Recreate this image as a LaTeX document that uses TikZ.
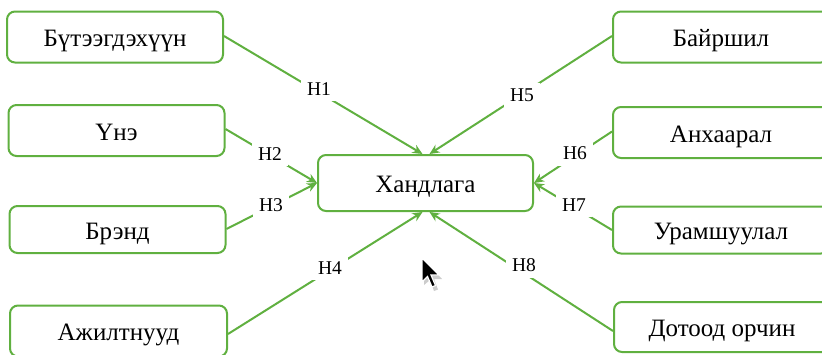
\documentclass[tikz,border=0pt]{standalone}
\usepackage{fontspec}
\setmainfont{Liberation Serif}
\usetikzlibrary{arrows.meta}
\definecolor{gr}{RGB}{96,176,64}
\tikzset{
  box/.style={draw=gr, line width=2pt, rounded corners=8pt, fill=white,
    minimum width=216pt, minimum height=51pt, inner sep=0pt,
    text height=21pt, text depth=2pt,
    font=\fontsize{25}{28}\selectfont},
  conn/.style={draw=gr, line width=2pt},
  arr/.style={conn, -{Stealth[length=10pt,width=9pt]}},
  lbl/.style={fill=white, inner sep=6pt, font=\fontsize{19.5}{22}\selectfont}
}
\begin{document}
\begin{tikzpicture}[x=1pt,y=-1pt]
\useasboundingbox (0,0) rectangle (822,354);
\clip (0,0) rectangle (822,354);
% boxes
\node[box] (b1) at (115,37) {Бүтээгдэхүүн};
\node[box] (b2) at (116.5,130.5) {Үнэ};
\node[box, minimum height=47pt] (b3) at (117.5,229.5) {Брэнд};
\node[box, minimum width=217pt] (b4) at (118.5,331) {Ажилтнууд};
\node[box] (r1) at (721,37) {Байршил};
\node[box] (r2) at (721,132.5) {Анхаарал};
\node[box, minimum height=47pt] (r3) at (721,230) {Урамшуулал};
\node[box, minimum height=50pt] (r4) at (722,327) {Дотоод орчин};
\node[box, minimum width=215pt, minimum height=56pt] (c) at (425.5,183) {Хандлага};
% anchor points on the centre box
\coordinate (ct1) at ([xshift=-3pt]c.north);
\coordinate (ct2) at ([xshift=4pt]c.north);
\coordinate (cb1) at ([xshift=-3pt]c.south);
\coordinate (cb2) at ([xshift=4pt]c.south);
% connectors
\draw[arr] ([yshift=1pt]b1.east) -- (ct1);
\draw[arr] ([yshift=1pt]r1.west) -- (ct2);
\draw[arr] ([yshift=1.5pt]b2.east) -- (c.west);
\draw[arr] ([yshift=0.5pt]b3.east) -- (c.west);
\draw[arr] ([yshift=-3pt]b4.east) -- (cb1);
\draw[arr] ([yshift=-4pt]r4.west) -- (cb2);
\draw[arr] ([yshift=1pt]r2.west) -- (c.east);
\draw[arr] (r3.west) -- (c.east);
% labels
\node[lbl] (h1) at (319,89) {H1};
\node[lbl] (h2) at (270,154) {H2};
\node[lbl] (h3) at (271,205) {H3};
\node[lbl] (h4) at (330,268) {H4};
\node[lbl] (h5) at (522,95) {H5};
\node[lbl] (h6) at (575,153) {H6};
\node[lbl] (h7) at (574,205) {H7};
\node[lbl] (h8) at (524,265) {H8};
% mouse pointer
\fill[black!20] (424,260) -- (424,285) -- (430,280) -- (434,291) -- (438,289.5) -- (434,279) -- (442,279) -- cycle;
\filldraw[fill=black, draw=white, line width=1.2pt, line join=miter]
  (422,258) -- (422,282) -- (427.5,276.5) -- (432,287) -- (435.5,285.5) -- (431,275) -- (439,275) -- cycle;
\end{tikzpicture}
\end{document}
